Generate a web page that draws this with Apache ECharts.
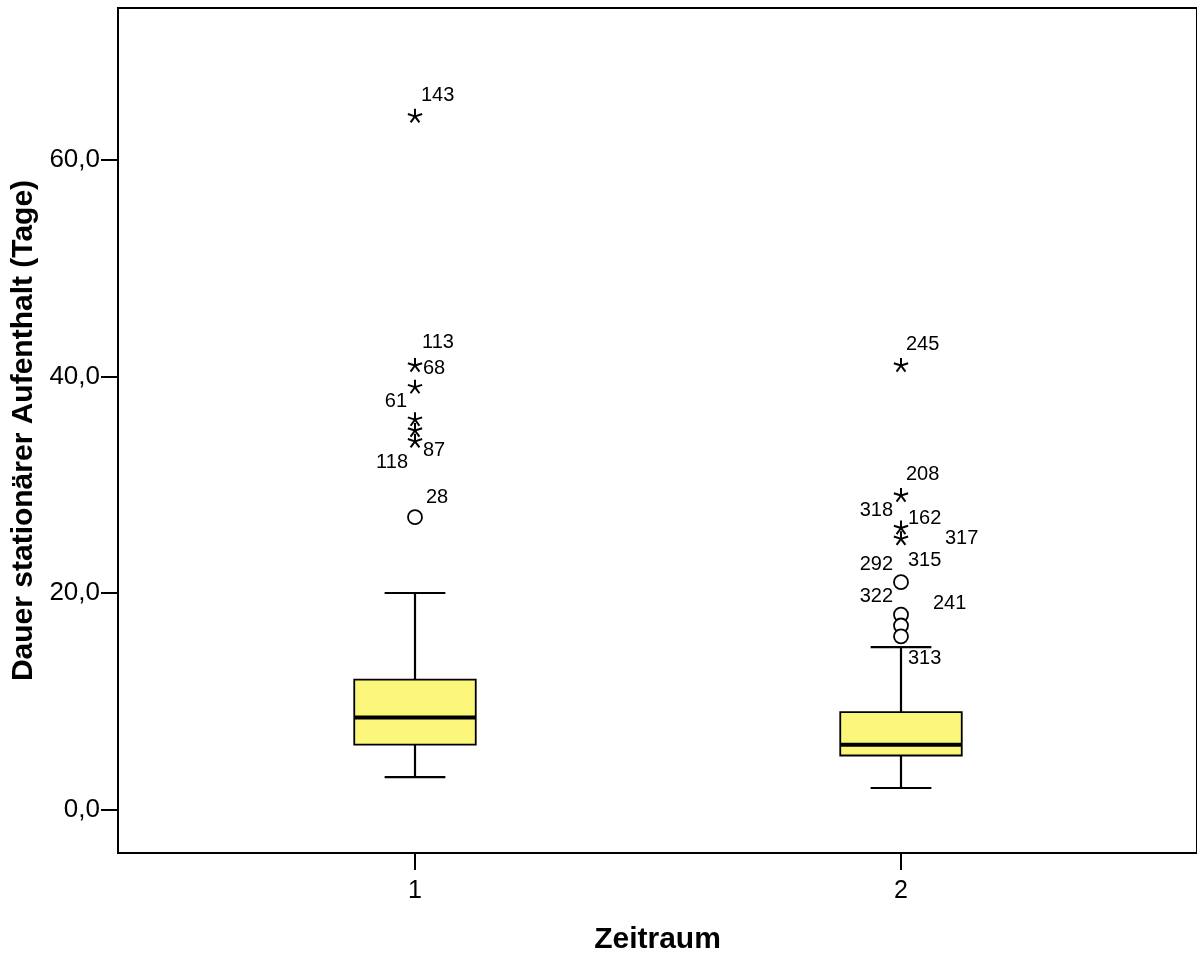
<!DOCTYPE html>
<html>
<head>
<meta charset="utf-8">
<script src="https://cdn.jsdelivr.net/npm/echarts@6/dist/echarts.min.js"></script>
<style>
html,body{margin:0;padding:0;background:#fff;}
#chart{width:1197px;height:954px;}
</style>
</head>
<body>
<div id="chart"></div>
<script>
// ---- data ----
const categories = ['1', '2'];
const whiskerLow = [3, 2];
const q1 = [6, 5];
const median = [8.5, 6];
const q3 = [12, 9];
const whiskerHigh = [20, 15];
// outliers: [category position, value]
const outlierCircles = [[1, 27], [2, 21], [2, 18], [2, 17], [2, 16]];
const extremeStars = [[1, 64], [1, 41], [1, 39], [1, 36], [1, 35], [1, 34], [2, 41], [2, 29], [2, 26], [2, 25]];
// case labels: [category position, value, text]
const caseLabels = [
  [1, 64, '143'], [1, 41, '113'], [1, 39, '68'], [1, 36, '61'], [1, 34, '87'], [1, 34, '118'], [1, 27, '28'],
  [2, 41, '245'], [2, 29, '208'], [2, 26, '318'], [2, 26, '162'], [2, 25, '317'], [2, 21, '292'], [2, 21, '315'],
  [2, 18, '322'], [2, 17, '241'], [2, 16, '313']
];
const yTicks = [0, 20, 40, 60];
const xTicks = [1, 2];

// ---- label placement (pixel offsets from the mark, alignment) ----
const labelPlacement = [
  [6, -21, 'left'], [7, -23, 'left'], [8, -19, 'left'], [-8, -18, 'right'], [8, 9, 'left'], [-7, 21, 'right'], [11, -20, 'left'],
  [5, -21, 'left'], [5, -21, 'left'], [-8, -18, 'right'], [7, -10, 'left'], [44, 0, 'left'], [-8, -18, 'right'], [7, -22, 'left'],
  [-8, -18, 'right'], [32, -22, 'left'], [7, 22, 'left']
];

const FONT = '"Liberation Sans", Arial, sans-serif';
const boxHalfWidth = 0.125; // in x-axis units
const capHalfWidth = 0.0625;

const chart = echarts.init(document.getElementById('chart'), null, {renderer: 'canvas'});

const boxData = categories.map((c, i) => [i + 1, whiskerLow[i], q1[i], median[i], q3[i], whiskerHigh[i]]);

function renderBox(params, api) {
  const x = api.value(0);
  const pLow = api.coord([x, api.value(1)]);
  const pQ1 = api.coord([x, api.value(2)]);
  const pMed = api.coord([x, api.value(3)]);
  const pQ3 = api.coord([x, api.value(4)]);
  const pHigh = api.coord([x, api.value(5)]);
  const unit = api.size([1, 0])[0];
  const hw = unit * boxHalfWidth;
  const cw = unit * capHalfWidth;
  const cx = pMed[0];
  const line = (x1, y1, x2, y2, w) => ({
    type: 'line', shape: {x1, y1, x2, y2}, style: {stroke: '#000', lineWidth: w}
  });
  return {
    type: 'group',
    children: [
      line(cx, pHigh[1], cx, pQ3[1], 2.2),
      line(cx, pQ1[1], cx, pLow[1], 2.2),
      line(cx - cw, pHigh[1], cx + cw, pHigh[1], 2.2),
      line(cx - cw, pLow[1], cx + cw, pLow[1], 2.2),
      {
        type: 'rect',
        shape: {x: cx - hw, y: pQ3[1], width: 2 * hw, height: pQ1[1] - pQ3[1]},
        style: {fill: '#FAF77B', stroke: '#000', lineWidth: 1.8}
      },
      line(cx - hw, pMed[1], cx + hw, pMed[1], 4)
    ]
  };
}

function renderStar(params, api) {
  const p = api.coord([api.value(0), api.value(1)]);
  const r = 7.5;
  const children = [];
  for (let k = 0; k < 5; k++) {
    const a = -Math.PI / 2 + k * 2 * Math.PI / 5;
    children.push({
      type: 'line',
      shape: {x1: p[0], y1: p[1], x2: p[0] + r * Math.cos(a), y2: p[1] + r * Math.sin(a)},
      style: {stroke: '#000', lineWidth: 2}
    });
  }
  return {type: 'group', children};
}

function renderLabel(params, api) {
  const i = params.dataIndex;
  const p = api.coord([api.value(0), api.value(1)]);
  const pl = labelPlacement[i];
  return {
    type: 'text',
    x: p[0] + pl[0],
    y: p[1] + pl[1],
    style: {
      text: caseLabels[i][2],
      fill: '#000',
      font: '20px ' + FONT,
      textAlign: pl[2],
      textVerticalAlign: 'middle'
    }
  };
}

const option = {
  animation: false,
  backgroundColor: '#fff',
  grid: {
    left: 118, right: 0, top: 8, bottom: 101,
    containLabel: false,
    outerBoundsMode: 'none',
    show: true, borderColor: '#000', borderWidth: 2, backgroundColor: 'transparent'
  },
  xAxis: {
    type: 'value',
    min: 1 - 297 / 486,
    max: 2 + 296 / 486,
    name: 'Zeitraum',
    nameLocation: 'middle',
    nameGap: 72,
    nameTextStyle: {fontFamily: FONT, fontWeight: 'bold', fontSize: 30, color: '#000'},
    splitLine: {show: false},
    axisLine: {show: true, onZero: false, lineStyle: {color: '#000', width: 2}},
    axisTick: {show: true, length: 17, lineStyle: {color: '#000', width: 2}, customValues: xTicks},
    axisLabel: {
      customValues: xTicks,
      margin: 26,
      fontFamily: FONT, fontSize: 25, color: '#000',
      formatter: v => categories[Math.round(v) - 1] || ''
    }
  },
  yAxis: {
    type: 'value',
    min: -4,
    max: 74,
    name: 'Dauer stationärer Aufenthalt (Tage)',
    nameLocation: 'middle',
    nameGap: 76,
    nameTextStyle: {fontFamily: FONT, fontWeight: 'bold', fontSize: 30, color: '#000'},
    splitLine: {show: false},
    axisLine: {show: true, onZero: false, lineStyle: {color: '#000', width: 2}},
    axisTick: {show: true, length: 17, lineStyle: {color: '#000', width: 2}, customValues: yTicks},
    axisLabel: {
      customValues: yTicks,
      margin: 18,
      fontFamily: FONT, fontSize: 26, color: '#000',
      formatter: v => v.toFixed(1).replace('.', ',')
    }
  },
  series: [
    {
      type: 'custom',
      renderItem: renderBox,
      data: boxData,
      encode: {x: 0, y: [1, 2, 3, 4, 5]},
      z: 2
    },
    {
      type: 'scatter',
      data: outlierCircles,
      symbol: 'circle',
      symbolSize: 14,
      itemStyle: {color: '#fff', borderColor: '#000', borderWidth: 1.8, opacity: 1},
      z: 3
    },
    {
      type: 'custom',
      renderItem: renderStar,
      data: extremeStars,
      encode: {x: 0, y: 1},
      z: 3
    },
    {
      type: 'custom',
      renderItem: renderLabel,
      data: caseLabels.map(d => [d[0], d[1]]),
      encode: {x: 0, y: 1},
      z: 4
    }
  ]
};
chart.setOption(option);
</script>
</body>
</html>
